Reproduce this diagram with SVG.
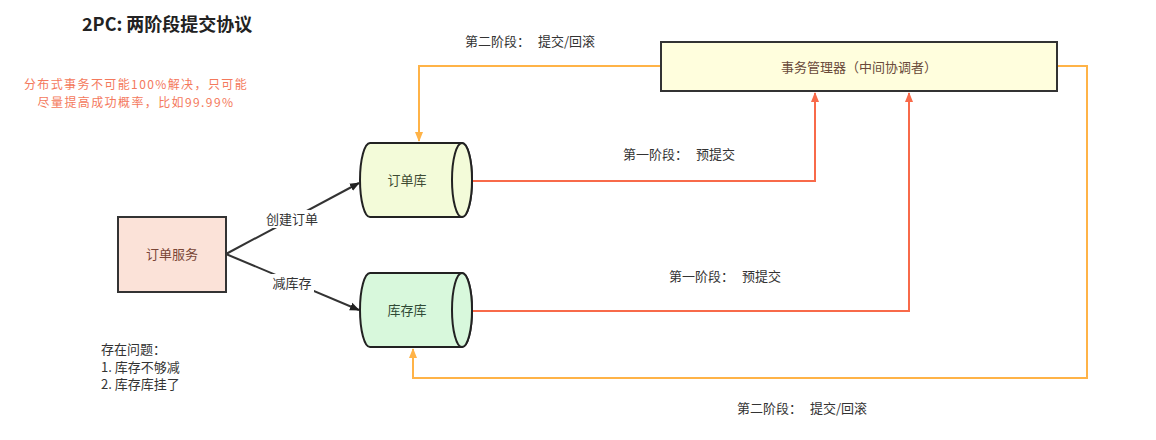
<svg xmlns="http://www.w3.org/2000/svg" width="1156" height="440" viewBox="0 0 1156 440">
<style>
text{font-family:"Noto Sans CJK SC","Liberation Sans",sans-serif;}
.lbl{font-size:13px;fill:#333;}
.node{font-size:13px;}
.blk{stroke:#333;stroke-width:2;fill:none;}
.red{stroke:#f86a4a;stroke-width:2;fill:none;}
.org{stroke:#ffb347;stroke-width:2;fill:none;}
</style>
<defs>
<marker id="ab" viewBox="0 0 10 10" refX="9" refY="5" markerWidth="10" markerHeight="10" markerUnits="userSpaceOnUse" orient="auto"><path d="M0,1 L10,5 L0,9 Z" fill="#222"/></marker>
<marker id="ar" viewBox="0 0 10 10" refX="9" refY="5" markerWidth="10" markerHeight="10" markerUnits="userSpaceOnUse" orient="auto"><path d="M0,1 L10,5 L0,9 Z" fill="#f86a4a"/></marker>
<marker id="ao" viewBox="0 0 10 10" refX="9" refY="5" markerWidth="10" markerHeight="10" markerUnits="userSpaceOnUse" orient="auto"><path d="M0,1 L10,5 L0,9 Z" fill="#ffb347"/></marker>
</defs>
<rect width="1156" height="440" fill="#fff"/>
<text x="82" y="31" font-size="18" font-weight="bold" fill="#222">2PC: 两阶段提交协议</text>
<g font-size="12" letter-spacing="1.4" fill="#f4795c" text-anchor="middle">
<text x="136" y="89">分布式事务不可能100%解决，只可能</text>
<text x="136" y="107">尽量提高成功概率，比如99.99%</text>
</g>
<g id="connectors">
<line class="blk" x1="226" y1="254" x2="359" y2="183" marker-end="url(#ab)"/>
<line class="blk" x1="226" y1="254" x2="359" y2="310" marker-end="url(#ab)"/>
<polyline class="red" points="472,181 815,181 815,93" marker-end="url(#ar)"/>
<polyline class="red" points="472,311 909,311 909,93" marker-end="url(#ar)"/>
<polyline class="org" points="661,66 419,66 419,141" marker-end="url(#ao)"/>
<polyline class="org" points="1057,66 1087,66 1087,378 413,378 413,349" marker-end="url(#ao)"/>
<rect x="265" y="210" width="54" height="18" fill="#fff"/>
<text class="lbl" x="292" y="224" text-anchor="middle">创建订单</text>
<rect x="270" y="274" width="44" height="18" fill="#fff"/>
<text class="lbl" x="292" y="288" text-anchor="middle">减库存</text>
<text class="lbl" x="465" y="46">第二阶段：<tspan dx="8">提交/回滚</tspan></text>
<text class="lbl" x="623" y="159">第一阶段：<tspan dx="8">预提交</tspan></text>
<text class="lbl" x="669" y="281">第一阶段：<tspan dx="8">预提交</tspan></text>
<text class="lbl" x="737" y="413">第二阶段：<tspan dx="8">提交/回滚</tspan></text>
</g>
<g id="order-service">
<rect x="118" y="217" width="108" height="75" fill="#fbe2d8" stroke="#333" stroke-width="2"/>
<text class="node" x="172" y="259" text-anchor="middle" fill="#7a4636">订单服务</text>
</g>
<g id="order-db">
<path d="M370,143 L462,143 A10,37 0 0 1 462,217 L370,217 A10,37 0 0 1 370,143 Z" fill="#f3fbd9" stroke="#222" stroke-width="2"/>
<ellipse cx="462" cy="180" rx="10" ry="37" fill="#f3fbd9" stroke="#222" stroke-width="2"/>
<text class="node" x="407" y="185" text-anchor="middle" fill="#3d4a33">订单库</text>
</g>
<g id="stock-db">
<path d="M370,273 L462,273 A10,37 0 0 1 462,347 L370,347 A10,37 0 0 1 370,273 Z" fill="#d8f8dc" stroke="#222" stroke-width="2"/>
<ellipse cx="462" cy="310" rx="10" ry="37" fill="#d8f8dc" stroke="#222" stroke-width="2"/>
<text class="node" x="407" y="315" text-anchor="middle" fill="#2f4a35">库存库</text>
</g>
<g id="tx-manager">
<rect x="661" y="42" width="396" height="49" fill="#fffedd" stroke="#333" stroke-width="2"/>
<text class="node" x="859" y="72" text-anchor="middle" fill="#6a4a3a">事务管理器（中间协调者）</text>
</g>
<g id="issues" class="lbl">
<text x="101" y="354">存在问题：</text>
<text x="101" y="372">1. 库存不够减</text>
<text x="101" y="389">2. 库存库挂了</text>
</g>
</svg>
